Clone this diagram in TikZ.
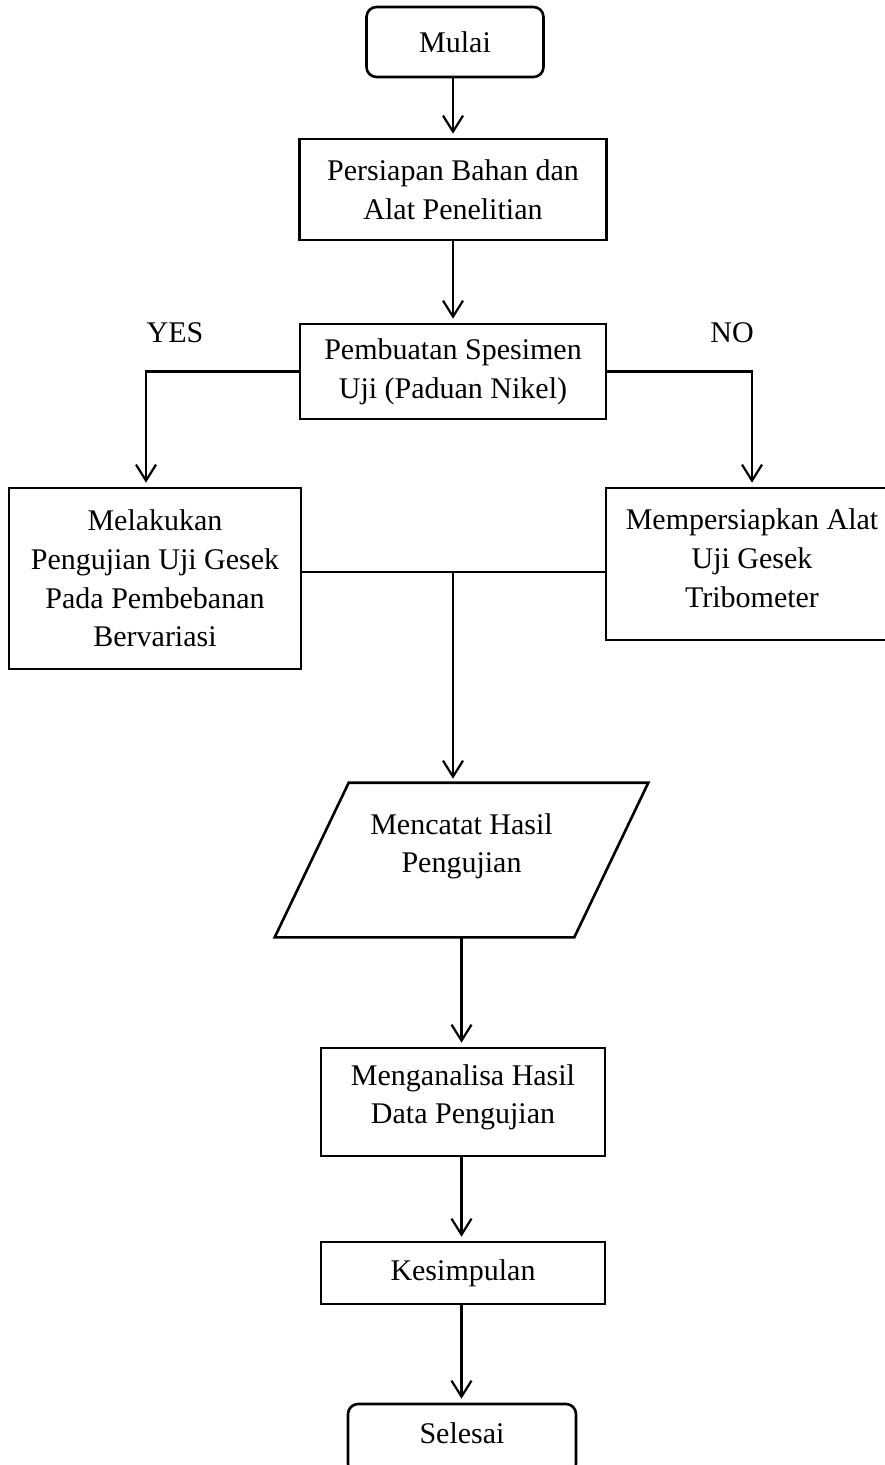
\documentclass[tikz,border=0pt]{standalone}
\usepackage{fontspec}
\setmainfont{Liberation Serif}
\usetikzlibrary{arrows.meta}

\begin{document}
\begin{tikzpicture}[
  x=0.5pt,y=-0.5pt,
  term/.style={draw,line width=1.3pt,rounded corners=5pt,
    minimum width=88.5pt,minimum height=35pt,inner sep=0pt,
    font=\fontsize{15}{19.4}\selectfont,align=center},
  proc/.style={draw,line width=1.3pt,inner sep=0pt,
    font=\fontsize{15}{19.4}\selectfont,align=center},
  iobox/.style={proc,draw=none,
    minimum width=148.5pt,minimum height=76pt},
  lbl/.style={font=\fontsize{15}{19.4}\selectfont},
  line/.style={line width=1.1pt},
  >={Straight Barb[length=8pt,width=10pt]}
]
\useasboundingbox (0,0) rectangle (884,1465);
\node[term] (mulai) at (455,42) {Mulai};
\node[proc,minimum width=153.5pt,minimum height=50.5pt] (bahan)
  at (453,189.5) {Persiapan Bahan dan\\Alat Penelitian};
\node[proc,minimum width=153pt,minimum height=47.5pt] (spesimen)
  at (453,371.5) {Pembuatan Spesimen\\Uji (Paduan Nikel)};
\node[lbl] (yes) at (175,333) {YES};
\node[lbl] (no)  at (732,333) {NO};
\node[proc,minimum width=146pt,minimum height=90.5pt] (uji)
  at (155,578.5) {Melakukan\\Pengujian Uji Gesek\\Pada Pembebanan\\Bervariasi};
\node[proc,minimum width=146pt,minimum height=76pt,text depth=6pt] (alat)
  at (752,564) {Mempersiapkan Alat\\Uji Gesek\\Tribometer};
\node[iobox,text depth=17pt] (catat)
  at (461.5,860) {Mencatat Hasil\\Pengujian};
\draw[line width=1.3pt] ([xshift=18.5pt]catat.north west)
  -- ([xshift=18.5pt]catat.north east)
  -- ([xshift=-18.5pt]catat.south east)
  -- ([xshift=-18.5pt]catat.south west) -- cycle;
\node[proc,minimum width=142pt,minimum height=54pt,text depth=8pt] (analisa)
  at (463,1102) {Menganalisa Hasil\\Data Pengujian};
\node[proc,minimum width=142pt,minimum height=31pt] (simpul)
  at (463,1273) {Kesimpulan};
\node[term,minimum width=114pt,text depth=6pt] (selesai)
  at (462,1439) {Selesai};
\coordinate (join) at (453,572);
% alur utama
\draw[line,->,shorten >=2pt] (bahan.north |- mulai.south) -- (bahan.north);
\draw[line,->,shorten >=2pt] (bahan) -- (spesimen);
\draw[line,->,shorten >=2pt] (spesimen.west)
  -| ([xshift=-4.5pt]uji.north);
\draw[line,->,shorten >=2pt] (spesimen.east) -| (alat.north);
\draw[line] (uji.east |- join) -- (alat.west |- join);
\draw[line,->,shorten >=2pt] (join) -- (join |- catat.north);
\draw[line,->,shorten >=2pt] (catat.south)
  -- (catat.south |- analisa.north);
\foreach \a/\b in {analisa/simpul,simpul/selesai}
  \draw[line,->,shorten >=2pt] (\a.south -| catat.south)
    -- (\b.north -| catat.south);
\end{tikzpicture}
\end{document}
